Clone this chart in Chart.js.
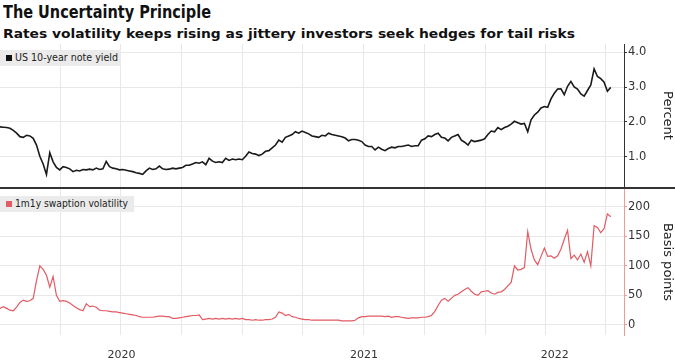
<!DOCTYPE html>
<html>
<head>
<meta charset="utf-8">
<script src="https://cdn.jsdelivr.net/npm/chart.js@4.4.1/dist/chart.umd.min.js"></script>
<style>
  body { margin: 0; width: 675px; height: 363px; background: #fff; position: relative; overflow: hidden; font-family: "DejaVu Sans", sans-serif; }
  .txt { position: absolute; white-space: nowrap; transform-origin: 0 0; display: inline-block; }
  #title { left: 3px; top: 2px; font-size: 18px; line-height: 20px; font-weight: bold; color: #111; }
  #subtitle { left: 3px; top: 27px; font-size: 12px; line-height: 14px; font-weight: bold; color: #111; }
  .panel { position: absolute; left: 0; }
  #sep { position: absolute; left: 0; top: 186.5px; width: 675px; height: 2.5px; background: #333; }
  .legend { position: absolute; left: 0; height: 16px; background: #ebebeb; }
  .legend .box { position: absolute; left: 6px; top: 5px; width: 6px; height: 6px; }
  .legend .txt { left: 15px; top: 0; line-height: 16px; font-size: 10px; color: #222; }
</style>
</head>
<body>
<div id="title" class="txt">The Uncertainty Principle</div>
<div id="subtitle" class="txt">Rates volatility keeps rising as jittery investors seek hedges for tail risks</div>

<div class="panel" style="top:44px"><canvas id="yieldChart" width="675" height="143"></canvas></div>
<div class="panel" style="top:189px"><canvas id="volChart" width="675" height="174"></canvas></div>
<div id="sep"></div>

<div class="legend" style="top:50px; width:121px"><span class="box" style="background:#111"></span><span id="leg1" class="txt">US 10-year note yield</span></div>
<div class="legend" style="top:196px; width:134px"><span class="box" style="background:#e35b63"></span><span id="leg2" class="txt">1m1y swaption volatility</span></div>

<script>
// one reading every 5 days from the start date
var startDate = '2020-01-01';
var endDate = '2022-07-29';
var stepDays = 5;

var quarterTicks = ['2020-04-01','2020-07-01','2020-10-01','2021-01-01','2021-04-01','2021-07-01','2021-10-01','2022-01-01','2022-04-01','2022-07-01'];
var yearLabels = ['2020', '2021', '2022'];
var yieldTicks = [1, 2, 3, 4];
var volTicks = [0, 50, 100, 150, 200];

// US 10-year note yield, percent
var yieldPct = [
  1.86,1.85,1.84,1.82,1.76,1.68,1.58,1.56,1.62,1.60,
  1.53,1.34,1.02,0.80,0.50,1.12,0.86,0.70,0.63,0.72,
  0.70,0.66,0.58,0.62,0.60,0.64,0.63,0.65,0.63,0.68,
  0.64,0.66,0.87,0.72,0.68,0.66,0.63,0.64,0.62,0.60,
  0.58,0.55,0.53,0.50,0.60,0.68,0.64,0.66,0.74,0.66,
  0.64,0.65,0.68,0.66,0.68,0.70,0.76,0.76,0.80,0.84,
  0.82,0.86,0.78,0.96,0.88,0.84,0.86,0.84,0.96,0.90,
  0.94,0.92,0.94,0.92,1.02,1.14,1.10,1.08,1.04,1.08,
  1.16,1.18,1.26,1.34,1.48,1.42,1.56,1.60,1.64,1.72,
  1.68,1.74,1.70,1.66,1.60,1.58,1.56,1.62,1.60,1.68,
  1.64,1.62,1.60,1.58,1.54,1.46,1.50,1.50,1.48,1.44,
  1.34,1.30,1.30,1.20,1.28,1.22,1.18,1.24,1.28,1.26,
  1.30,1.30,1.32,1.34,1.30,1.32,1.32,1.48,1.52,1.60,
  1.58,1.64,1.68,1.56,1.54,1.46,1.56,1.60,1.64,1.48,
  1.42,1.34,1.48,1.44,1.46,1.48,1.52,1.64,1.74,1.72,
  1.84,1.78,1.84,1.88,1.94,2.02,1.98,1.94,1.96,1.72,
  2.06,2.20,2.28,2.40,2.44,2.42,2.66,2.82,2.94,2.95,
  2.78,3.02,3.16,3.00,2.94,2.80,2.74,2.90,3.06,3.52,
  3.30,3.24,3.14,2.88,2.99
];

// 1m1y swaption volatility, basis points
var swaptionVol = [
  28,31,28,25,24,30,38,42,40,41,
  45,75,100,94,84,64,82,50,40,41,
  40,37,33,29,26,24,36,31,32,30,
  25,24,24,23,22,22,21,20,19,18,
  17,16,14,13,13,13,13,14,15,15,
  14,14,11,11,12,13,14,15,16,16,
  17,9,10,11,10,11,10,11,10,11,
  10,11,10,11,9,9,8,9,8,8,
  9,9,10,13,22,20,16,18,14,13,
  11,10,9,9,8,8,8,8,8,8,
  8,8,8,7,7,7,7,8,12,14,
  14,15,15,15,15,15,14,15,13,14,
  14,13,12,11,12,12,12,13,13,14,
  16,23,33,42,45,40,45,50,52,56,
  60,63,57,52,50,56,57,58,54,52,
  55,56,60,66,72,100,93,94,97,158,
  128,110,102,116,130,116,117,113,117,128,
  145,160,112,118,110,120,106,124,100,168,
  165,156,163,188,183
];

function dayOf(s) { return Math.round((Date.parse(s) - Date.parse(startDate)) / 864e5); }
var xMax = dayOf(endDate);
var gridDays = quarterTicks.map(dayOf);
var labelTicks = yearLabels.map(function (y) {
  var a = dayOf(y + '-01-01');
  var b = Math.min(dayOf((+y + 1) + '-01-01'), xMax);
  return { value: (a + b) / 2, year: y };
});

function points(vals) {
  return vals.map(function (v, i) { return { x: i * stepDays, y: v }; });
}

var tickFont = { family: 'DejaVu Sans', size: 11.5 };

function xScale(showLabels) {
  return {
    type: 'linear', min: 0, max: xMax,
    afterBuildTicks: function (s) {
      var t = gridDays.map(function (v) { return { value: v }; });
      if (showLabels) t = t.concat(labelTicks.map(function (l) { return { value: l.value, year: l.year }; }));
      t.sort(function (a, b) { return a.value - b.value; });
      s.ticks = t;
    },
    afterFit: function (s) {
      s.height = showLabels ? 28 : 0;
      s.paddingLeft = 0; s.paddingRight = 0;
    },
    ticks: {
      display: showLabels, autoSkip: false, maxRotation: 0, padding: 14,
      color: '#333', font: { family: 'DejaVu Sans', size: 11 },
      callback: function (v, i, ticks) { return ticks[i].year || ''; }
    },
    grid: {
      drawTicks: false,
      color: function (c) { return c.tick && c.tick.year ? 'rgba(0,0,0,0)' : '#e8e8e8'; }
    },
    border: { display: false }
  };
}

function yScale(min, max, ticks, fmt, title, axisColor) {
  return {
    position: 'right', min: min, max: max,
    afterBuildTicks: function (s) { s.ticks = ticks.map(function (v) { return { value: v }; }); },
    afterFit: function (s) { s.width = 51; s.paddingTop = 0; s.paddingBottom = 0; },
    ticks: { callback: fmt, color: '#333', font: tickFont, padding: 1, autoSkip: false },
    grid: { color: '#e8e8e8', tickColor: axisColor, tickLength: 3 },
    border: { color: axisColor, width: 1 },
    title: { display: true, text: title, color: '#222', font: { family: 'DejaVu Sans', size: 13 }, padding: { top: 0, bottom: 0 } }
  };
}

function baseOptions(x, y) {
  return {
    responsive: false, animation: false,
    layout: { padding: 0 },
    plugins: { legend: { display: false }, tooltip: { enabled: false } },
    elements: { point: { radius: 0 }, line: { tension: 0 } },
    scales: { x: x, y: y }
  };
}

new Chart('yieldChart', {
  type: 'line',
  data: { datasets: [{ data: points(yieldPct), borderColor: '#1a1a1a', borderWidth: 1.6 }] },
  options: baseOptions(
    xScale(false),
    yScale(0.14, 4.23, yieldTicks, function (v) { return v.toFixed(1); }, 'Percent', '#333')
  )
});

new Chart('volChart', {
  type: 'line',
  data: { datasets: [{ data: points(swaptionVol), borderColor: '#e35b63', borderWidth: 1.2 }] },
  options: baseOptions(
    xScale(true),
    yScale(-17, 230, volTicks, function (v) { return String(v); }, 'Basis points', '#f19a9a')
  )
});

// squeeze the html texts to the widths they have in the source
function fitWidth(id, w) {
  var el = document.getElementById(id);
  var r = el.getBoundingClientRect().width;
  el.style.transform = 'scaleX(' + (w / r) + ')';
}
fitWidth('title', 208);
fitWidth('subtitle', 572);
fitWidth('leg1', 103);
fitWidth('leg2', 113);
</script>
</body>
</html>
